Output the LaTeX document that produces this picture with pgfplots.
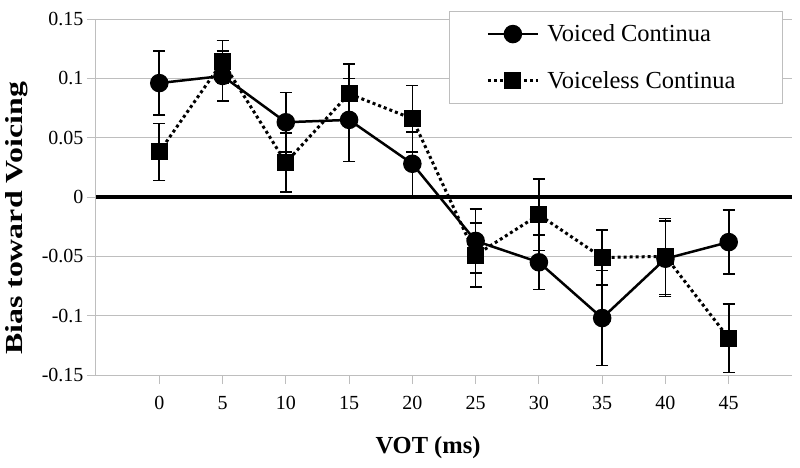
\documentclass[border=0pt]{standalone}
\usepackage{fontspec}
\setmainfont{Liberation Serif}
\usepackage{graphicx}
\usepackage{pgfplots}
\pgfplotsset{compat=1.18}
\usepackage{pgfplotstable}

\definecolor{gridc}{RGB}{190,190,190}

% VOT, bias, error
\pgfplotstableread{
x   y       e
0   0.096   0.027
5   0.102   0.021
10  0.063   0.025
15  0.065   0.035
20  0.028   0.027
25  -0.037  0.027
30  -0.055  0.023
35  -0.102  0.040
40  -0.052  0.032
45  -0.038  0.027
}\voiced

\pgfplotstableread{
x   y       e
0   0.038   0.024
5   0.114   0.018
10  0.029   0.025
15  0.087   0.025
20  0.066   0.028
25  -0.049  0.027
30  -0.015  0.030
35  -0.051  0.023
40  -0.050  0.032
45  -0.119  0.029
}\voiceless

\begin{document}
\begin{tikzpicture}
\path[use as bounding box] (-96pt,-92pt) rectangle (704pt,375pt);
\begin{axis}[
    at={(0,0)}, anchor=south west,
    scale only axis,
    width=696pt, height=356pt,
    xmin=-5, xmax=50,
    ymin=-0.15, ymax=0.15,
    xtick={0,5,...,45},
    ytick={-0.15,-0.1,-0.05,0,0.05,0.1,0.15},
    yticklabels={-0.15,-0.1,-0.05,0,0.05,0.1,0.15},
    axis lines*=left,
    axis line style={gridc, line width=1pt, -},
    ymajorgrids,
    grid style={gridc, line width=1pt},
    tick align=outside,
    major tick length=9pt,
    tick style={gridc, line width=1pt},
    ticklabel style={font=\fontsize{20}{22}\selectfont},
    xticklabel style={yshift=-9pt},
    /pgf/number format/assume math mode=true,
    xlabel={\textbf{VOT (ms)}},
    xlabel style={at={(axis description cs:0.477,-0.205)}, anchor=center,
        font=\fontsize{24.5}{28}\selectfont},
    ylabel={\scalebox{1.3}[1]{\textbf{Bias toward Voicing}}},
    ylabel style={at={(axis description cs:-0.1135,0.44)}, anchor=center,
        font=\fontsize{24.5}{28}\selectfont},
    legend style={
        at={(rel axis cs:0.987,1.023)}, anchor=north east,
        draw=gridc, line width=1pt, fill=white,
        font=\fontsize{24.5}{28}\selectfont,
        inner xsep=37pt, inner ysep=11.5pt,
        row sep=24pt, column sep=6pt,
    },
    legend cell align=left,
    legend image code/.code={
        \draw[mark repeat=2,mark phase=2,#1]
            plot coordinates {(0pt,0pt) (25pt,0pt) (50pt,0pt)};
    },
]

\addplot[black, line width=4pt, forget plot] coordinates {(-5,0) (50,0)};

\addplot[black, line width=2.5pt, mark=*, mark size=8pt, mark options={solid},
    error bars/.cd, y dir=both, y explicit,
    error bar style={line width=1.6pt, solid},
    error mark options={rotate=90, mark size=6pt, line width=1.6pt, solid}]
    table[x=x, y=y, y error=e] {\voiced};
\addlegendentry{Voiced Continua\hspace*{8pt}}

\addplot[black, line width=3pt, dash pattern=on 3pt off 3pt,
    mark=square*, mark size=7pt, mark options={solid},
    error bars/.cd, y dir=both, y explicit,
    error bar style={line width=1.6pt, solid},
    error mark options={rotate=90, mark size=6pt, line width=1.6pt, solid}]
    table[x=x, y=y, y error=e] {\voiceless};
\addlegendentry{Voiceless Continua\hspace*{8pt}}

\end{axis}
\end{tikzpicture}
\end{document}
